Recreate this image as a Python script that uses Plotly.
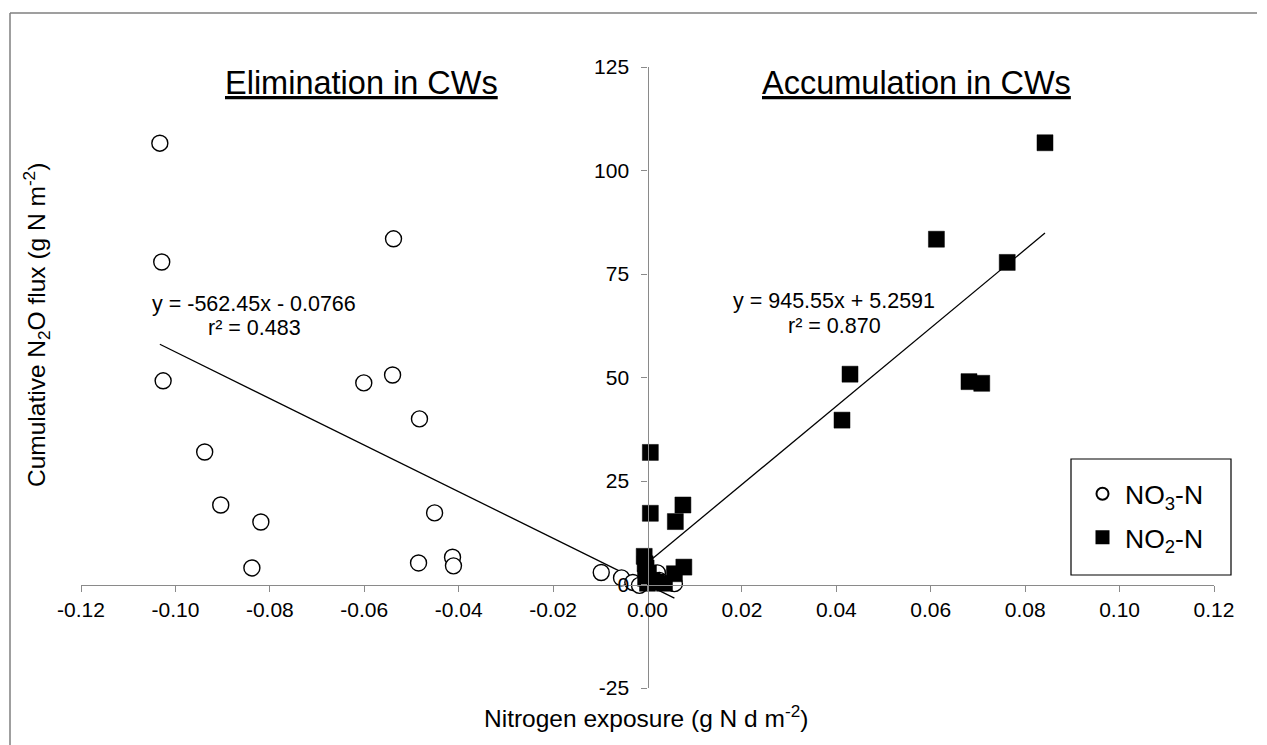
import plotly.graph_objects as go

# ---------------- data ----------------
no3_x = [-0.1033, -0.0538, -0.1029, -0.0540, -0.1026, -0.0601, -0.0483, -0.0938,
         -0.0904, -0.0451, -0.0819, -0.0413, -0.0485, -0.0411, -0.0838, -0.0098,
         0.0021, -0.0055, -0.0031, 0.0057, -0.0017, 0.0025]
no3_y = [106.6, 83.5, 77.9, 50.6, 49.2, 48.7, 40.0, 32.0,
         19.2, 17.3, 15.1, 6.6, 5.2, 4.5, 4.0, 2.9,
         2.8, 1.6, 0.5, 0.2, -0.2, 1.0]

no2_x = [0.0842, 0.0612, 0.0762, 0.0429, 0.0681, 0.0708, 0.0412, 0.0006,
         0.0075, 0.0006, 0.0059, -0.0007, -0.0005, 0.0077, -0.0003, 0.0057,
         0.0002, -0.0004, 0.0018, 0.0036, 0.0000, 0.0010]
no2_y = [106.7, 83.4, 77.8, 50.8, 49.0, 48.6, 39.7, 31.9,
         19.2, 17.2, 15.2, 6.8, 5.0, 4.2, 4.0, 2.6,
         2.8, 1.5, 0.6, 0.3, 0.3, 1.0]

# trendline coefficients shown on the chart
no3_slope, no3_intercept, no3_r2 = -562.45, -0.0766, "0.483"
no2_slope, no2_intercept, no2_r2 = 945.55, 5.2591, "0.870"

x_tickvals = [-0.12, -0.10, -0.08, -0.06, -0.04, -0.02, 0.00, 0.02, 0.04, 0.06, 0.08, 0.10, 0.12]
x_ticktext = ["-0.12", "-0.10", "-0.08", "-0.06", "-0.04", "-0.02", "0.00",
              "0.02", "0.04", "0.06", "0.08", "0.10", "0.12"]
y_tickvals = [-25, 0, 25, 50, 75, 100, 125]
y_ticktext = ["-25", "0", "25", "50", "75", "100", "125"]

# ---------------- layout geometry ----------------
W, H = 1267, 745
L, R, T, B = 81, 53, 67, 57
PW, PH = W - L - R, H - T - B


def px(xp):
    return (xp - L) / PW


def py(yp):
    return (H - B - yp) / PH


FONT = "Liberation Sans, Arial, sans-serif"
AXIS_GREY = "#8a8a8a"

fig = go.Figure()

# trendlines (drawn from the equations over each series' range)
x3 = [min(no3_x), max(no3_x)]
fig.add_trace(go.Scatter(x=x3, y=[no3_slope * v + no3_intercept for v in x3],
                         mode="lines", line=dict(color="black", width=1.3),
                         showlegend=False, hoverinfo="skip"))
x2 = [min(no2_x), max(no2_x)]
fig.add_trace(go.Scatter(x=x2, y=[no2_slope * v + no2_intercept for v in x2],
                         mode="lines", line=dict(color="black", width=1.3),
                         showlegend=False, hoverinfo="skip"))

fig.add_trace(go.Scatter(x=no3_x, y=no3_y, mode="markers", name="NO<sub>3</sub>-N",
                         legendgroup="a",
                         marker=dict(symbol="circle", size=16, color="white",
                                     line=dict(color="black", width=1.4))))
fig.add_trace(go.Scatter(x=no2_x, y=no2_y, mode="markers", name="NO<sub>2</sub>-N",
                         legendgroup="b",
                         marker=dict(symbol="square", size=16, color="black",
                                     line=dict(color="black", width=0.5))))

axis_common = dict(showline=True, linecolor=AXIS_GREY, linewidth=1.3,
                   ticks="outside", ticklen=6, tickwidth=1.3, tickcolor=AXIS_GREY,
                   showgrid=False, zeroline=False,
                   tickfont=dict(family=FONT, size=21, color="black"))

fig.update_layout(
    width=W, height=H,
    margin=dict(l=L, r=R, t=T, b=B),
    paper_bgcolor="white", plot_bgcolor="white",
    font=dict(family=FONT, color="black"),
    xaxis=dict(range=[-0.12, 0.12], anchor="free", position=1 / 6,
               tickmode="array", tickvals=x_tickvals, ticktext=x_ticktext,
               **axis_common),
    yaxis=dict(range=[-25, 125], anchor="free", position=0.5,
               tickmode="array", tickvals=y_tickvals, ticktext=y_ticktext,
               ticklabelstandoff=8, **axis_common),
    legend=dict(x=px(1080), y=py(470), xanchor="left", yanchor="top",
                borderwidth=0, bgcolor="rgba(0,0,0,0)",
                font=dict(family=FONT, size=26.5, color="black"),
                itemsizing="constant", itemwidth=35, tracegroupgap=6),
    showlegend=True,
)

annotations = [
    dict(x=px(361), y=py(83), text="<u>Elimination in CWs</u>", font=dict(size=32.5)),
    dict(x=px(916), y=py(83), text="<u>Accumulation in CWs</u>", font=dict(size=32.5)),
    dict(x=px(254), y=py(304),
         text=f"y = {no3_slope}x - {abs(no3_intercept)}", font=dict(size=21.5)),
    dict(x=px(254), y=py(328), text=f"r² = {no3_r2}", font=dict(size=21.5)),
    dict(x=px(834), y=py(301),
         text=f"y = {no2_slope}x + {no2_intercept}", font=dict(size=21.5)),
    dict(x=px(834), y=py(326), text=f"r² = {no2_r2}", font=dict(size=21.5)),
    dict(x=px(646), y=py(716), text="Nitrogen exposure (g N d m<sup>-2</sup>)",
         font=dict(size=24.5)),
    dict(x=px(36), y=py(325), text="Cumulative N<sub>2</sub>O flux (g N m<sup>-2</sup>)",
         textangle=-90, font=dict(size=24.5)),
]
for a in annotations:
    a.update(xref="paper", yref="paper", showarrow=False,
             xanchor="center", yanchor="middle")
    a["font"].update(family=FONT, color="black")
fig.update_layout(annotations=annotations)

# legend frame
fig.add_shape(type="rect", xref="paper", yref="paper",
              x0=px(1071), x1=px(1231), y0=py(575), y1=py(459),
              line=dict(color="black", width=1.2), fillcolor="rgba(0,0,0,0)")

# outer chart border (top and left edges visible)
fig.add_shape(type="line", xref="paper", yref="paper",
              x0=px(10), x1=px(10), y0=py(13), y1=py(760),
              line=dict(color="#7f7f7f", width=1.5))
fig.add_shape(type="line", xref="paper", yref="paper",
              x0=px(10), x1=px(1257), y0=py(13), y1=py(13),
              line=dict(color="#7f7f7f", width=1.5))

fig.write_html("out.html")
